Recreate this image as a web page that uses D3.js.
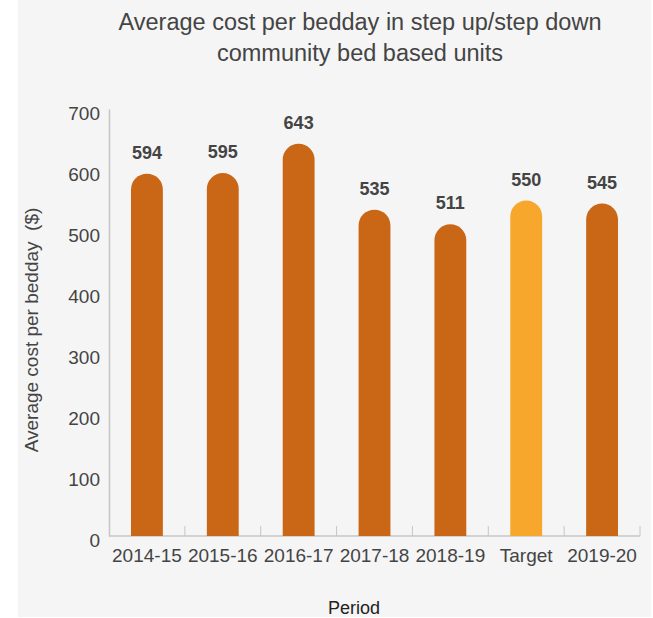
<!DOCTYPE html>
<html>
<head>
<meta charset="utf-8">
<script src="https://cdn.jsdelivr.net/npm/d3@7"></script>
<style>
  body { margin: 0; background: #fff; }
  svg { display: block; font-family: "Liberation Sans", Arial, sans-serif; }
</style>
</head>
<body>
<svg class="chart"></svg>
<script>
var periods = ["2014-15", "2015-16", "2016-17", "2017-18", "2018-19", "Target", "2019-20"];
var costs = [594, 595, 643, 535, 511, 550, 545];
var yTicks = [0, 100, 200, 300, 400, 500, 600, 700];
var titleLines = ["Average cost per bedday in step up/step down", "community bed based units"];

var width = 653, height = 618;
var plot = { left: 109, right: 640, top: 109, bottom: 536 };

var svg = d3.select(".chart")
  .attr("width", width)
  .attr("height", height);

// grey panel
svg.append("rect")
  .attr("x", 18).attr("y", 0)
  .attr("width", 633).attr("height", 617)
  .attr("fill", "#f5f5f5");

var x = d3.scaleBand()
  .domain(periods)
  .range([plot.left, plot.right])
  .paddingInner(0.58)
  .paddingOuter(0.29);

var y = d3.scaleLinear()
  .domain([0, 700])
  .range([plot.bottom, plot.top]);

// title
svg.append("text")
  .attr("x", 360)
  .attr("y", 30)
  .attr("text-anchor", "middle")
  .attr("fill", "#444")
  .style("font-size", "23.5px")
  .selectAll("tspan")
  .data(titleLines)
  .enter().append("tspan")
    .attr("x", 360)
    .attr("dy", function(d, i) { return i ? 31 : 0; })
    .text(function(d) { return d; });

// y axis
var yAxis = d3.axisLeft(y)
  .tickValues(yTicks)
  .tickSize(0)
  .tickPadding(9);

var gy = svg.append("g")
  .attr("transform", "translate(" + plot.left + ",0)")
  .call(yAxis);
gy.select(".domain").attr("stroke", "#c6c6c6").attr("stroke-width", 1.5);
gy.selectAll("text")
  .attr("fill", "#444")
  .attr("dy", "0.55em")
  .style("font-size", "19px")
  .style("font-family", "Liberation Sans, Arial, sans-serif");

// x axis line + boundary ticks
svg.append("line")
  .attr("x1", plot.left).attr("x2", plot.right)
  .attr("y1", y(0)).attr("y2", y(0))
  .attr("stroke", "#c6c6c6").attr("stroke-width", 1.5);

var step = x.step();
var bounds = periods.map(function(d) { return x(d) + x.bandwidth() + step * x.paddingInner() / 2; });
svg.selectAll(".xtick")
  .data(bounds)
  .enter().append("line")
    .attr("class", "xtick")
    .attr("x1", function(d) { return d; })
    .attr("x2", function(d) { return d; })
    .attr("y1", y(0))
    .attr("y2", y(0) - 10)
    .attr("stroke", "#c6c6c6")
    .attr("stroke-width", 1);

svg.selectAll(".xlabel")
  .data(periods)
  .enter().append("text")
    .attr("class", "xlabel")
    .attr("x", function(d) { return x(d) + x.bandwidth() / 2; })
    .attr("y", y(0) + 26)
    .attr("text-anchor", "middle")
    .attr("fill", "#444")
    .style("font-size", "19px")
    .text(function(d) { return d; });

// bars with rounded tops
function barPath(d, i) {
  var x0 = x(periods[i]), w = x.bandwidth(), r = w / 2;
  var top = y(d), base = y(0);
  return "M" + x0 + "," + base +
    "L" + x0 + "," + (top + r) +
    "A" + r + "," + r + " 0 0 1 " + (x0 + w) + "," + (top + r) +
    "L" + (x0 + w) + "," + base + "Z";
}

svg.selectAll(".bar")
  .data(costs)
  .enter().append("path")
    .attr("class", "bar")
    .attr("d", barPath)
    .attr("fill", function(d, i) { return periods[i] === "Target" ? "#f7a72b" : "#ca6717"; });

svg.selectAll(".value")
  .data(costs)
  .enter().append("text")
    .attr("class", "value")
    .attr("x", function(d, i) { return x(periods[i]) + x.bandwidth() / 2; })
    .attr("y", function(d) { return y(d) - 15; })
    .attr("text-anchor", "middle")
    .attr("fill", "#444")
    .style("font-size", "18px")
    .style("font-weight", "bold")
    .text(function(d) { return d; });

// axis titles
svg.append("text")
  .attr("transform", "translate(38,330) rotate(-90)")
  .attr("text-anchor", "middle")
  .attr("fill", "#444")
  .style("font-size", "19px")
  .style("white-space", "pre")
  .text("Average cost per bedday  ($)");

svg.append("text")
  .attr("x", 354)
  .attr("y", 614)
  .attr("text-anchor", "middle")
  .attr("fill", "#222")
  .style("font-size", "18px")
  .text("Period");
</script>
</body>
</html>
